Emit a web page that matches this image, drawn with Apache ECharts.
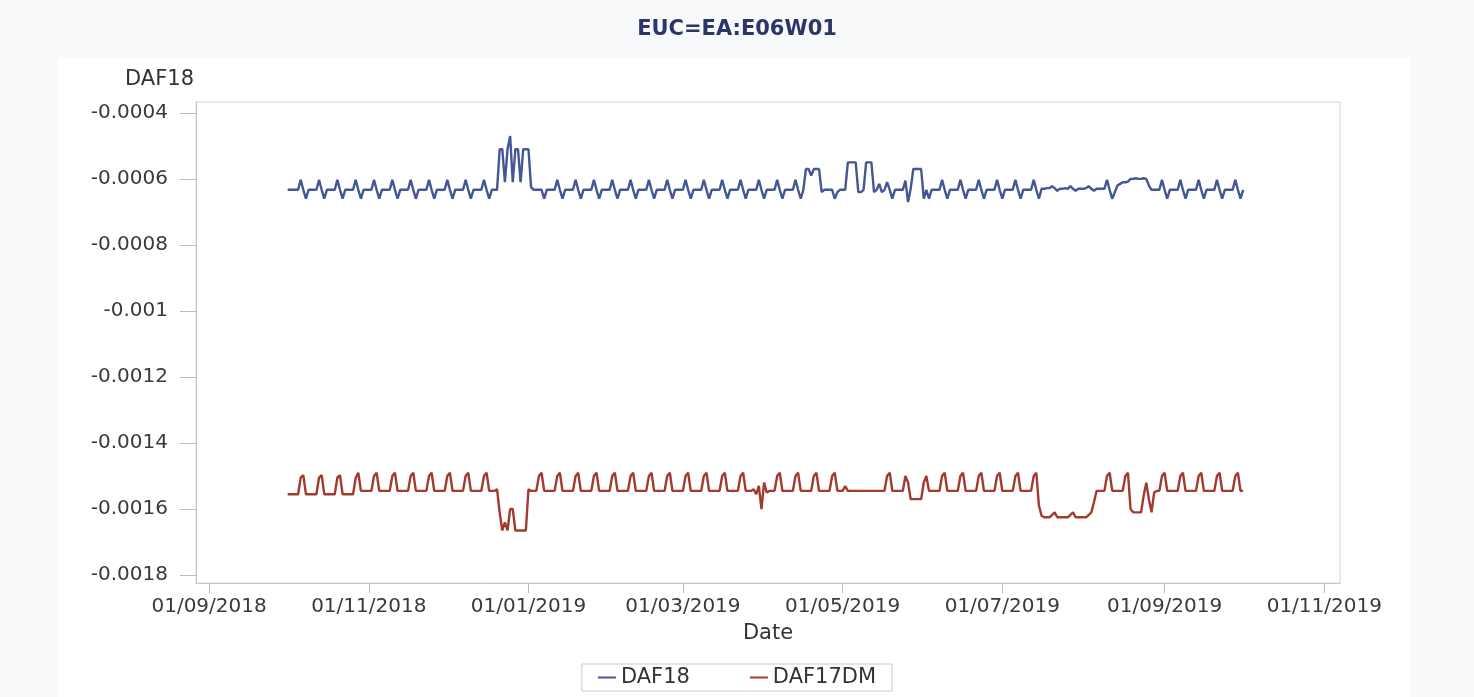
<!DOCTYPE html>
<html><head><meta charset="utf-8">
<script src="https://cdn.jsdelivr.net/npm/echarts@6/dist/echarts.min.js"></script>
<style>html,body{margin:0;padding:0;background:#f8f9fb}#c{width:1474px;height:697px}</style>
</head><body><div id="c"></div>
<script>
const TITLE = 'EUC=EA:E06W01';
const X_NAME = 'Date';
const Y_NAME = 'DAF18';
const SERIES_NAMES = ['DAF18', 'DAF17DM'];
const START_DATE = '2018-10-01';   // first daily observation

// DAF18, daily values (one row = one week, Mon..Sun)
const DAF18 = [
-0.000633,-0.000633,-0.000633,-0.000633,-0.000633,-0.000603,-0.000633,
-0.00066,-0.000633,-0.000633,-0.000633,-0.000633,-0.000603,-0.000633,
-0.00066,-0.000633,-0.000633,-0.000633,-0.000633,-0.000603,-0.000633,
-0.00066,-0.000633,-0.000633,-0.000633,-0.000633,-0.000603,-0.000633,
-0.00066,-0.000633,-0.000633,-0.000633,-0.000633,-0.000603,-0.000633,
-0.00066,-0.000633,-0.000633,-0.000633,-0.000633,-0.000603,-0.000633,
-0.00066,-0.000633,-0.000633,-0.000633,-0.000633,-0.000603,-0.000633,
-0.00066,-0.000633,-0.000633,-0.000633,-0.000633,-0.000603,-0.000633,
-0.00066,-0.000633,-0.000633,-0.000633,-0.000633,-0.000603,-0.000633,
-0.00066,-0.000633,-0.000633,-0.000633,-0.000633,-0.000603,-0.000633,
-0.00066,-0.000633,-0.000633,-0.000633,-0.000633,-0.000603,-0.000633,
-0.00066,-0.000633,-0.000633,-0.000633,-0.00051,-0.00051,-0.00061,
-0.00051,-0.00047,-0.00061,-0.00051,-0.00051,-0.00061,-0.00051,
-0.00051,-0.00051,-0.000625,-0.000633,-0.000633,-0.000633,-0.000633,
-0.00066,-0.000633,-0.000633,-0.000633,-0.000633,-0.000603,-0.000633,
-0.00066,-0.000633,-0.000633,-0.000633,-0.000633,-0.000603,-0.000633,
-0.00066,-0.000633,-0.000633,-0.000633,-0.000633,-0.000603,-0.000633,
-0.00066,-0.000633,-0.000633,-0.000633,-0.000633,-0.000603,-0.000633,
-0.00066,-0.000633,-0.000633,-0.000633,-0.000633,-0.000603,-0.000633,
-0.00066,-0.000633,-0.000633,-0.000633,-0.000633,-0.000603,-0.000633,
-0.00066,-0.000633,-0.000633,-0.000633,-0.000633,-0.000603,-0.000633,
-0.00066,-0.000633,-0.000633,-0.000633,-0.000633,-0.000603,-0.000633,
-0.00066,-0.000633,-0.000633,-0.000633,-0.000633,-0.000603,-0.000633,
-0.00066,-0.000633,-0.000633,-0.000633,-0.000633,-0.000603,-0.000633,
-0.00066,-0.000633,-0.000633,-0.000633,-0.000633,-0.000603,-0.000633,
-0.00066,-0.000633,-0.000633,-0.000633,-0.000633,-0.000603,-0.000633,
-0.00066,-0.000633,-0.000633,-0.000633,-0.000633,-0.000603,-0.000633,
-0.00066,-0.000633,-0.000633,-0.000633,-0.000633,-0.000603,-0.000633,
-0.00066,-0.000633,-0.00057,-0.00057,-0.00059,-0.00057,-0.00057,
-0.00057,-0.00064,-0.000633,-0.000633,-0.000633,-0.000633,-0.00066,
-0.00064,-0.000633,-0.000633,-0.000633,-0.00055,-0.00055,-0.00055,
-0.00055,-0.00064,-0.00064,-0.000633,-0.00055,-0.00055,-0.00055,
-0.00064,-0.000633,-0.000615,-0.00064,-0.000633,-0.00061,-0.000633,
-0.00066,-0.000633,-0.000633,-0.000633,-0.000633,-0.000605,-0.00067,
-0.00063,-0.00057,-0.00057,-0.00057,-0.00057,-0.00066,-0.000633,
-0.00066,-0.000633,-0.000633,-0.000633,-0.000633,-0.000603,-0.000633,
-0.00066,-0.000633,-0.000633,-0.000633,-0.000633,-0.000603,-0.000633,
-0.00066,-0.000633,-0.000633,-0.000633,-0.000633,-0.000603,-0.000633,
-0.00066,-0.000633,-0.000633,-0.000633,-0.000633,-0.000603,-0.000633,
-0.00066,-0.000633,-0.000633,-0.000633,-0.000633,-0.000603,-0.000633,
-0.00066,-0.000633,-0.000633,-0.000633,-0.000633,-0.000603,-0.000633,
-0.00066,-0.00063,-0.00063,-0.000628,-0.000628,-0.000622,-0.000628,
-0.000636,-0.00063,-0.00063,-0.000628,-0.00063,-0.000622,-0.00063,
-0.000636,-0.00063,-0.00063,-0.00063,-0.000628,-0.000622,-0.00063,
-0.000636,-0.00063,-0.00063,-0.00063,-0.00063,-0.000603,-0.000633,
-0.00066,-0.00064,-0.00062,-0.000615,-0.00061,-0.00061,-0.000608,
-0.0006,-0.0006,-0.000598,-0.0006,-0.0006,-0.000598,-0.0006,
-0.00062,-0.000633,-0.000633,-0.000633,-0.000633,-0.000603,-0.000633,
-0.00066,-0.000633,-0.000633,-0.000633,-0.000633,-0.000603,-0.000633,
-0.00066,-0.000633,-0.000633,-0.000633,-0.000633,-0.000603,-0.000633,
-0.00066,-0.000633,-0.000633,-0.000633,-0.000633,-0.000603,-0.000633,
-0.00066,-0.000633,-0.000633,-0.000633,-0.000633,-0.000603,-0.000633,
-0.00066,-0.000633
];

// DAF17DM, daily values (one row = one week, Mon..Sun)
const DAF17DM = [
-0.001555,-0.001555,-0.001555,-0.001555,-0.001555,-0.001505,-0.001497,
-0.001555,-0.001555,-0.001555,-0.001555,-0.001555,-0.001505,-0.001497,
-0.001555,-0.001555,-0.001555,-0.001555,-0.001555,-0.001505,-0.001497,
-0.001555,-0.001555,-0.001555,-0.001555,-0.001555,-0.001505,-0.00149,
-0.001545,-0.001545,-0.001545,-0.001545,-0.001545,-0.0015,-0.00149,
-0.001545,-0.001545,-0.001545,-0.001545,-0.001545,-0.0015,-0.00149,
-0.001545,-0.001545,-0.001545,-0.001545,-0.001545,-0.0015,-0.00149,
-0.001545,-0.001545,-0.001545,-0.001545,-0.001545,-0.0015,-0.00149,
-0.001545,-0.001545,-0.001545,-0.001545,-0.001545,-0.0015,-0.00149,
-0.001545,-0.001545,-0.001545,-0.001545,-0.001545,-0.0015,-0.00149,
-0.001545,-0.001545,-0.001545,-0.001545,-0.001545,-0.0015,-0.00149,
-0.001545,-0.001545,-0.001545,-0.00154,-0.00161,-0.001665,-0.00164,
-0.001665,-0.0016,-0.0016,-0.001665,-0.001665,-0.001665,-0.001665,
-0.001665,-0.00154,-0.001545,-0.001545,-0.001545,-0.0015,-0.00149,
-0.001545,-0.001545,-0.001545,-0.001545,-0.001545,-0.0015,-0.00149,
-0.001545,-0.001545,-0.001545,-0.001545,-0.001545,-0.0015,-0.00149,
-0.001545,-0.001545,-0.001545,-0.001545,-0.001545,-0.0015,-0.00149,
-0.001545,-0.001545,-0.001545,-0.001545,-0.001545,-0.0015,-0.00149,
-0.001545,-0.001545,-0.001545,-0.001545,-0.001545,-0.0015,-0.00149,
-0.001545,-0.001545,-0.001545,-0.001545,-0.001545,-0.0015,-0.00149,
-0.001545,-0.001545,-0.001545,-0.001545,-0.001545,-0.0015,-0.00149,
-0.001545,-0.001545,-0.001545,-0.001545,-0.001545,-0.0015,-0.00149,
-0.001545,-0.001545,-0.001545,-0.001545,-0.001545,-0.0015,-0.00149,
-0.001545,-0.001545,-0.001545,-0.001545,-0.001545,-0.0015,-0.00149,
-0.001545,-0.001545,-0.001545,-0.001545,-0.001545,-0.0015,-0.00149,
-0.001545,-0.001545,-0.001545,-0.00154,-0.001555,-0.00153,-0.0016,
-0.00152,-0.00155,-0.001545,-0.001545,-0.001545,-0.0015,-0.00149,
-0.001545,-0.001545,-0.001545,-0.001545,-0.001545,-0.0015,-0.00149,
-0.001545,-0.001545,-0.001545,-0.001545,-0.001545,-0.0015,-0.00149,
-0.001545,-0.001545,-0.001545,-0.001545,-0.001545,-0.0015,-0.00149,
-0.001545,-0.001545,-0.001545,-0.00153,-0.001545,-0.001545,-0.001545,
-0.001545,-0.001545,-0.001545,-0.001545,-0.001545,-0.001545,-0.001545,
-0.001545,-0.001545,-0.001545,-0.001545,-0.001545,-0.0015,-0.00149,
-0.001545,-0.001545,-0.001545,-0.001545,-0.001545,-0.0015,-0.00152,
-0.00157,-0.00157,-0.00157,-0.00157,-0.00157,-0.00152,-0.0015,
-0.001545,-0.001545,-0.001545,-0.001545,-0.001545,-0.0015,-0.00149,
-0.001545,-0.001545,-0.001545,-0.001545,-0.001545,-0.0015,-0.00149,
-0.001545,-0.001545,-0.001545,-0.001545,-0.001545,-0.0015,-0.00149,
-0.001545,-0.001545,-0.001545,-0.001545,-0.001545,-0.0015,-0.00149,
-0.001545,-0.001545,-0.001545,-0.001545,-0.001545,-0.0015,-0.00149,
-0.001545,-0.001545,-0.001545,-0.001545,-0.001545,-0.0015,-0.00149,
-0.00159,-0.00162,-0.001625,-0.001625,-0.001625,-0.001618,-0.00161,
-0.001625,-0.001625,-0.001625,-0.001625,-0.001625,-0.001618,-0.00161,
-0.001625,-0.001625,-0.001625,-0.001625,-0.001625,-0.001618,-0.00161,
-0.00158,-0.001545,-0.001545,-0.001545,-0.001545,-0.0015,-0.00149,
-0.001545,-0.001545,-0.001545,-0.001545,-0.001545,-0.0015,-0.00149,
-0.0016,-0.00161,-0.00161,-0.00161,-0.00161,-0.00156,-0.00152,
-0.00157,-0.00161,-0.00155,-0.001545,-0.001545,-0.0015,-0.00149,
-0.001545,-0.001545,-0.001545,-0.001545,-0.001545,-0.0015,-0.00149,
-0.001545,-0.001545,-0.001545,-0.001545,-0.001545,-0.0015,-0.00149,
-0.001545,-0.001545,-0.001545,-0.001545,-0.001545,-0.0015,-0.00149,
-0.001545,-0.001545,-0.001545,-0.001545,-0.001545,-0.0015,-0.00149,
-0.001545,-0.001545
];

const Y_TICKS = [-0.0018, -0.0016, -0.0014, -0.0012, -0.001, -0.0008, -0.0006, -0.0004];
const Y_TICK_LABELS = ['-0.0018', '-0.0016', '-0.0014', '-0.0012', '-0.001', '-0.0008', '-0.0006', '-0.0004'];
const X_TICKS = ['2018-09-01', '2018-11-01', '2019-01-01', '2019-03-01', '2019-05-01', '2019-07-01', '2019-09-01', '2019-11-01'];
const X_TICK_LABELS = ['01/09/2018', '01/11/2018', '01/01/2019', '01/03/2019', '01/05/2019', '01/07/2019', '01/09/2019', '01/11/2019'];
const X_MIN = '2018-08-27';
const X_MAX = '2019-11-07';
const Y_MIN = -0.001824;
const Y_MAX = -0.000367;

const DAY_MS = 86400000;
const t0 = Date.parse(START_DATE);
const toPairs = arr => arr.map((v, i) => [t0 + i * DAY_MS, v]);
const xTickTs = X_TICKS.map(d => Date.parse(d));
const FONT = 'DejaVu Sans';

const chart = echarts.init(document.getElementById('c'), null, {renderer: 'canvas'});
chart.setOption({
  backgroundColor: '#f8f9fb',
  animation: false,
  graphic: [{
    type: 'rect', silent: true, z: -10,
    shape: {x: 57, y: 57, width: 1353, height: 640},
    style: {fill: '#ffffff'}
  }],
  title: {
    text: TITLE, left: 'center', top: 19, padding: 0,
    textStyle: {fontFamily: FONT, fontSize: 21, fontWeight: 'bold', color: '#2a3668'}
  },
  legend: {
    data: SERIES_NAMES, left: 'center', top: 664,
    icon: 'rect', itemWidth: 18, itemHeight: 2, itemGap: 60,
    padding: [3, 16], borderColor: '#c9c9c9', borderWidth: 1,
    textStyle: {fontFamily: FONT, fontSize: 21, color: '#333'}
  },
  grid: {
    left: 196, right: 134, top: 102, bottom: 114,
    show: true, borderColor: '#d4d4d4', borderWidth: 1, backgroundColor: '#ffffff',
    containLabel: false, outerBoundsMode: 'none'
  },
  xAxis: {
    type: 'value', min: Date.parse(X_MIN), max: Date.parse(X_MAX),
    name: X_NAME, nameLocation: 'middle', nameGap: 40,
    nameTextStyle: {fontFamily: FONT, fontSize: 21, color: '#333'},
    axisLine: {lineStyle: {color: '#c8c8c8'}},
    axisTick: {show: true, length: 10, lineStyle: {color: '#bdbdbd'}, customValues: xTickTs},
    axisLabel: {
      customValues: xTickTs, margin: 14, hideOverlap: false,
      fontFamily: FONT, fontSize: 20, color: '#3a3a3a',
      formatter: v => {
        let best = 0;
        xTickTs.forEach((t, i) => { if (Math.abs(t - v) < Math.abs(xTickTs[best] - v)) best = i; });
        return X_TICK_LABELS[best];
      }
    },
    splitLine: {show: false}
  },
  yAxis: {
    type: 'value', min: Y_MIN, max: Y_MAX,
    name: Y_NAME, nameLocation: 'end', nameGap: 12,
    nameTextStyle: {fontFamily: FONT, fontSize: 21, color: '#333', align: 'right', padding: [0, 2, 0, 0]},
    axisLine: {show: true, lineStyle: {color: '#c8c8c8'}},
    axisTick: {show: true, length: 16, lineStyle: {color: '#bdbdbd'}, customValues: Y_TICKS},
    axisLabel: {
      customValues: Y_TICKS, margin: 28,
      fontFamily: FONT, fontSize: 20, color: '#3a3a3a',
      formatter: v => {
        let best = 0;
        Y_TICKS.forEach((t, i) => { if (Math.abs(t - v) < Math.abs(Y_TICKS[best] - v)) best = i; });
        return Y_TICK_LABELS[best];
      }
    },
    splitLine: {show: false}
  },
  series: [
    {name: SERIES_NAMES[0], type: 'line', data: toPairs(DAF18), showSymbol: false,
     lineStyle: {width: 2.4, color: '#445694'}, itemStyle: {color: '#445694'}},
    {name: SERIES_NAMES[1], type: 'line', data: toPairs(DAF17DM), showSymbol: false,
     lineStyle: {width: 2.4, color: '#a23a2e'}, itemStyle: {color: '#a23a2e'}}
  ]
});
</script>
</body></html>
